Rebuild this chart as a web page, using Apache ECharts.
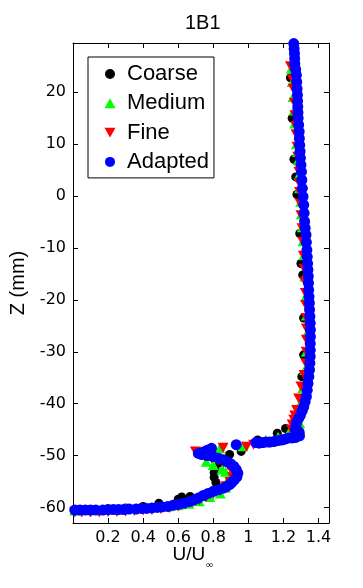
<!DOCTYPE html>
<html>
<head>
<meta charset="utf-8">
<script src="https://cdn.jsdelivr.net/npm/echarts@6/dist/echarts.min.js"></script>
<style>
  html, body { margin: 0; padding: 0; background: #fff; }
  #main { width: 363px; height: 588px; }
</style>
</head>
<body>
<div id="main"></div>
<script>
// [U/Uinf, Z (mm)]
var coarse = [
  [1.240, 22.8], [1.250, 15.0], [1.260, 7.1], [1.270, 3.7], [1.277, 0.3],
  [1.293, -7.2], [1.300, -13.0], [1.310, -15.2], [1.315, -23.5], [1.315, -30.6],
  [1.305, -34.8], [1.212, -44.8], [1.165, -45.7], [1.053, -47.0], [0.959, -49.2],
  [0.893, -49.8], [0.836, -51.4], [0.810, -52.4], [0.805, -53.3], [0.805, -54.2],
  [0.815, -55.2], [0.668, -57.9], [0.620, -58.0], [0.600, -58.4], [0.490, -59.2],
  [0.400, -59.8], [0.300, -60.1], [0.200, -60.3], [0.100, -60.4], [0.010, -60.5]
];
var medium = [
  [1.245, 24.6], [1.250, 22.0], [1.255, 19.1], [1.260, 16.5], [1.264, 14.0],
  [1.274, 10.0], [1.280, 8.5], [1.284, 6.9], [1.288, 4.0], [1.292, 1.5],
  [1.298, -1.1], [1.302, -3.5], [1.307, -6.0], [1.312, -8.7], [1.317, -11.4],
  [1.322, -15.5], [1.327, -19.4], [1.331, -23.0], [1.335, -26.4], [1.331, -30.0],
  [1.322, -33.5], [1.310, -37.0], [1.296, -40.0], [1.293, -43.8], [1.230, -45.6],
  [1.170, -46.4], [1.100, -47.0], [0.968, -48.2], [0.837, -48.6], [0.760, -51.2],
  [0.800, -51.8], [0.850, -52.7], [0.870, -53.1], [0.890, -54.3], [0.895, -55.0],
  [0.870, -56.2], [0.840, -57.3], [0.780, -58.0], [0.720, -58.8], [0.660, -59.3],
  [0.600, -59.6], [0.540, -59.8], [0.480, -59.9], [0.420, -60.0], [0.360, -60.1],
  [0.300, -60.2], [0.240, -60.3], [0.180, -60.4], [0.120, -60.5], [0.060, -60.5],
  [0.010, -60.6]
];
var fine = [
  [1.240, 25.0], [1.250, 22.5], [1.256, 20.7], [1.262, 18.0], [1.266, 15.6],
  [1.270, 13.5], [1.272, 11.9], [1.278, 9.5], [1.282, 7.6], [1.288, 4.7],
  [1.290, 2.5], [1.292, 0.8], [1.296, -1.5], [1.300, -3.7], [1.306, -6.2],
  [1.310, -8.8], [1.314, -11.5], [1.318, -14.0], [1.322, -16.5], [1.325, -18.7],
  [1.327, -21.0], [1.330, -23.5], [1.331, -25.5], [1.331, -27.7], [1.330, -30.0],
  [1.327, -32.2], [1.318, -34.5], [1.300, -36.7], [1.287, -39.0], [1.275, -41.2],
  [1.265, -42.3], [1.259, -43.1], [1.250, -44.0], [1.245, -45.0], [1.262, -46.0],
  [1.240, -46.6], [1.210, -46.9], [1.180, -47.2], [1.150, -47.4], [1.120, -47.6],
  [1.090, -47.7], [1.060, -47.8], [1.030, -47.9], [0.990, -48.3], [0.856, -48.5],
  [0.698, -49.2], [0.720, -49.8], [0.750, -50.1], [0.790, -50.5], [0.830, -50.9],
  [0.860, -51.4], [0.885, -51.9], [0.900, -52.6], [0.912, -53.3], [0.910, -54.2],
  [0.895, -55.1], [0.872, -55.9], [0.840, -56.7], [0.800, -57.4], [0.760, -58.0],
  [0.720, -58.6], [0.680, -59.1], [0.640, -59.5], [0.600, -59.8], [0.550, -60.1],
  [0.500, -60.3], [0.450, -60.5], [0.400, -60.6], [0.350, -60.7], [0.300, -60.8],
  [0.250, -60.9], [0.200, -60.9], [0.150, -61.0], [0.100, -61.0], [0.050, -61.0],
  [0.010, -61.0]
];
var adapted = [
  [1.259, 29.4], [1.261, 28.4], [1.263, 27.5], [1.264, 26.5], [1.265, 25.5],
  [1.270, 24.4], [1.274, 23.3], [1.276, 22.0], [1.278, 20.7], [1.280, 19.5],
  [1.281, 18.3], [1.282, 17.2], [1.283, 16.1], [1.284, 15.0], [1.287, 13.7],
  [1.290, 12.4], [1.291, 11.1], [1.293, 9.8], [1.295, 8.6], [1.297, 7.3],
  [1.300, 6.0], [1.303, 4.7], [1.305, 3.1], [1.308, 1.5], [1.312, -0.1],
  [1.316, -1.7], [1.318, -3.3], [1.321, -4.9], [1.324, -6.2], [1.329, -7.5],
  [1.331, -8.9], [1.334, -10.4], [1.336, -11.7], [1.338, -13.0], [1.340, -14.2],
  [1.342, -15.5], [1.343, -16.8], [1.344, -18.1], [1.346, -19.4], [1.348, -20.6],
  [1.349, -21.9], [1.351, -23.2], [1.353, -24.5], [1.354, -25.8], [1.354, -27.1],
  [1.353, -28.4], [1.353, -29.7], [1.353, -30.9], [1.351, -32.2], [1.349, -33.5],
  [1.345, -34.8], [1.340, -36.1], [1.336, -37.4], [1.331, -38.6], [1.324, -39.6],
  [1.316, -40.6], [1.307, -41.4], [1.297, -42.2], [1.288, -42.8], [1.278, -43.4],
  [1.272, -44.2], [1.269, -45.0], [1.290, -45.5], [1.292, -46.2], [1.270, -46.5],
  [1.250, -46.6], [1.231, -46.6], [1.212, -46.8], [1.194, -47.0], [1.170, -47.1],
  [1.146, -47.3], [1.122, -47.4], [1.100, -47.4], [1.080, -47.5], [1.062, -47.6],
  [1.043, -47.5], [0.931, -47.9], [0.790, -48.6], [0.765, -49.0], [0.743, -49.3],
  [0.715, -49.6], [0.735, -49.8], [0.765, -50.0], [0.800, -50.2], [0.830, -50.5],
  [0.856, -50.8], [0.880, -51.2], [0.900, -51.6], [0.918, -52.1], [0.931, -52.7],
  [0.940, -53.4], [0.935, -54.1], [0.920, -54.7], [0.905, -55.2], [0.893, -55.6],
  [0.875, -56.0], [0.856, -56.3], [0.830, -56.6], [0.800, -56.9], [0.770, -57.3],
  [0.743, -57.7], [0.715, -58.2], [0.687, -58.6], [0.660, -58.9], [0.630, -59.2],
  [0.600, -59.4], [0.570, -59.6], [0.540, -59.8], [0.508, -59.9], [0.480, -60.0],
  [0.450, -60.1], [0.420, -60.2], [0.390, -60.2], [0.360, -60.3], [0.320, -60.3],
  [0.290, -60.4], [0.260, -60.4], [0.230, -60.4], [0.200, -60.4], [0.170, -60.5],
  [0.130, -60.5], [0.100, -60.5], [0.070, -60.5], [0.040, -60.5], [0.010, -60.5]
];

var seriesNames = ['Coarse', 'Medium', 'Fine', 'Adapted'];
var xRange = [0, 1.46];
var yRange = [-63, 29.5];

var myChart = echarts.init(document.getElementById('main'));

var txt = 'Liberation Sans';
var black = '#000';

function xAxisBase(pos, labels) {
  return {
    type: 'value',
    position: pos,
    min: xRange[0],
    max: xRange[1],
    interval: 0.2,
    axisLine: { show: true, onZero: false, lineStyle: { color: black, width: 1 } },
    axisTick: { show: true, inside: true, length: 5, lineStyle: { color: black } },
    splitLine: { show: false },
    axisLabel: {
      show: labels,
      fontFamily: 'DejaVu Sans',
      fontSize: 16,
      color: black,
      margin: 7,
      formatter: function (v) {
        if (v <= 0 || v > 1.45) return '';
        return String(+v.toFixed(1));
      }
    }
  };
}

function yAxisBase(pos, labels) {
  return {
    type: 'value',
    position: pos,
    min: yRange[0],
    max: yRange[1],
    splitNumber: 9,
    minInterval: 10,
    maxInterval: 10,
    axisLine: { show: true, onZero: false, lineStyle: { color: black, width: 1 } },
    axisTick: { show: true, inside: true, length: 5, lineStyle: { color: black } },
    splitLine: { show: false },
    axisLabel: {
      show: labels,
      fontFamily: 'DejaVu Sans',
      fontSize: 16,
      color: black,
      margin: 7,
      formatter: function (v) {
        return Math.abs(v % 10) < 1e-6 ? String(v) : '';
      }
    }
  };
}

var xBottom = xAxisBase('bottom', true);
xBottom.name = '{a|U/U}{b|\u221e}';
xBottom.nameLocation = 'middle';
xBottom.nameGap = 22;
xBottom.nameMoveOverlap = false;
xBottom.nameTextStyle = {
  padding: [0, 16, 0, 0],
  rich: {
    a: { fontFamily: txt, fontSize: 19, color: black, lineHeight: 22, verticalAlign: 'top' },
    b: { fontFamily: 'DejaVu Sans', fontSize: 10, color: black, lineHeight: 25, verticalAlign: 'bottom' }
  }
};

var yLeft = yAxisBase('left', true);
yLeft.name = 'Z (mm)';
yLeft.nameLocation = 'middle';
yLeft.nameGap = 45;
yLeft.nameTextStyle = { fontFamily: txt, fontSize: 20, color: black };

myChart.setOption({
  animation: false,
  backgroundColor: '#fff',
  title: {
    text: '1B1',
    left: 180,
    top: 8,
    textStyle: { fontFamily: txt, fontSize: 20, fontWeight: 'normal', color: black }
  },
  grid: { left: 70, right: 34, top: 43, bottom: 65 },
  xAxis: [xBottom, xAxisBase('top', false)],
  yAxis: [yLeft, yAxisBase('right', false)],
  legend: {
    data: seriesNames,
    orient: 'vertical',
    left: 88,
    top: 57,
    itemWidth: 11,
    itemHeight: 10,
    itemGap: 7.3,
    padding: [6, 5, 5, 16.5],
    borderColor: black,
    borderWidth: 1,
    backgroundColor: '#fff',
    textStyle: { fontFamily: txt, fontSize: 22, color: black, lineHeight: 22, padding: [0, 0, 0, 6.5] }
  },
  series: [
    {
      name: 'Coarse', type: 'scatter', data: coarse,
      symbol: 'circle', symbolSize: 9,
      itemStyle: { color: '#000000', opacity: 1 }
    },
    {
      name: 'Medium', type: 'scatter', data: medium,
      symbol: 'triangle', symbolSize: [11, 10],
      itemStyle: { color: '#00ff00', opacity: 1 }
    },
    {
      name: 'Fine', type: 'scatter', data: fine,
      symbol: 'path://M0,0L20,0L10,18Z', symbolSize: [11, 10],
      itemStyle: { color: '#ff0000', opacity: 1 }
    },
    {
      name: 'Adapted', type: 'scatter', data: adapted,
      symbol: 'circle', symbolSize: 11,
      itemStyle: { color: '#0000ff', opacity: 1 }
    }
  ]
});
</script>
</body>
</html>
